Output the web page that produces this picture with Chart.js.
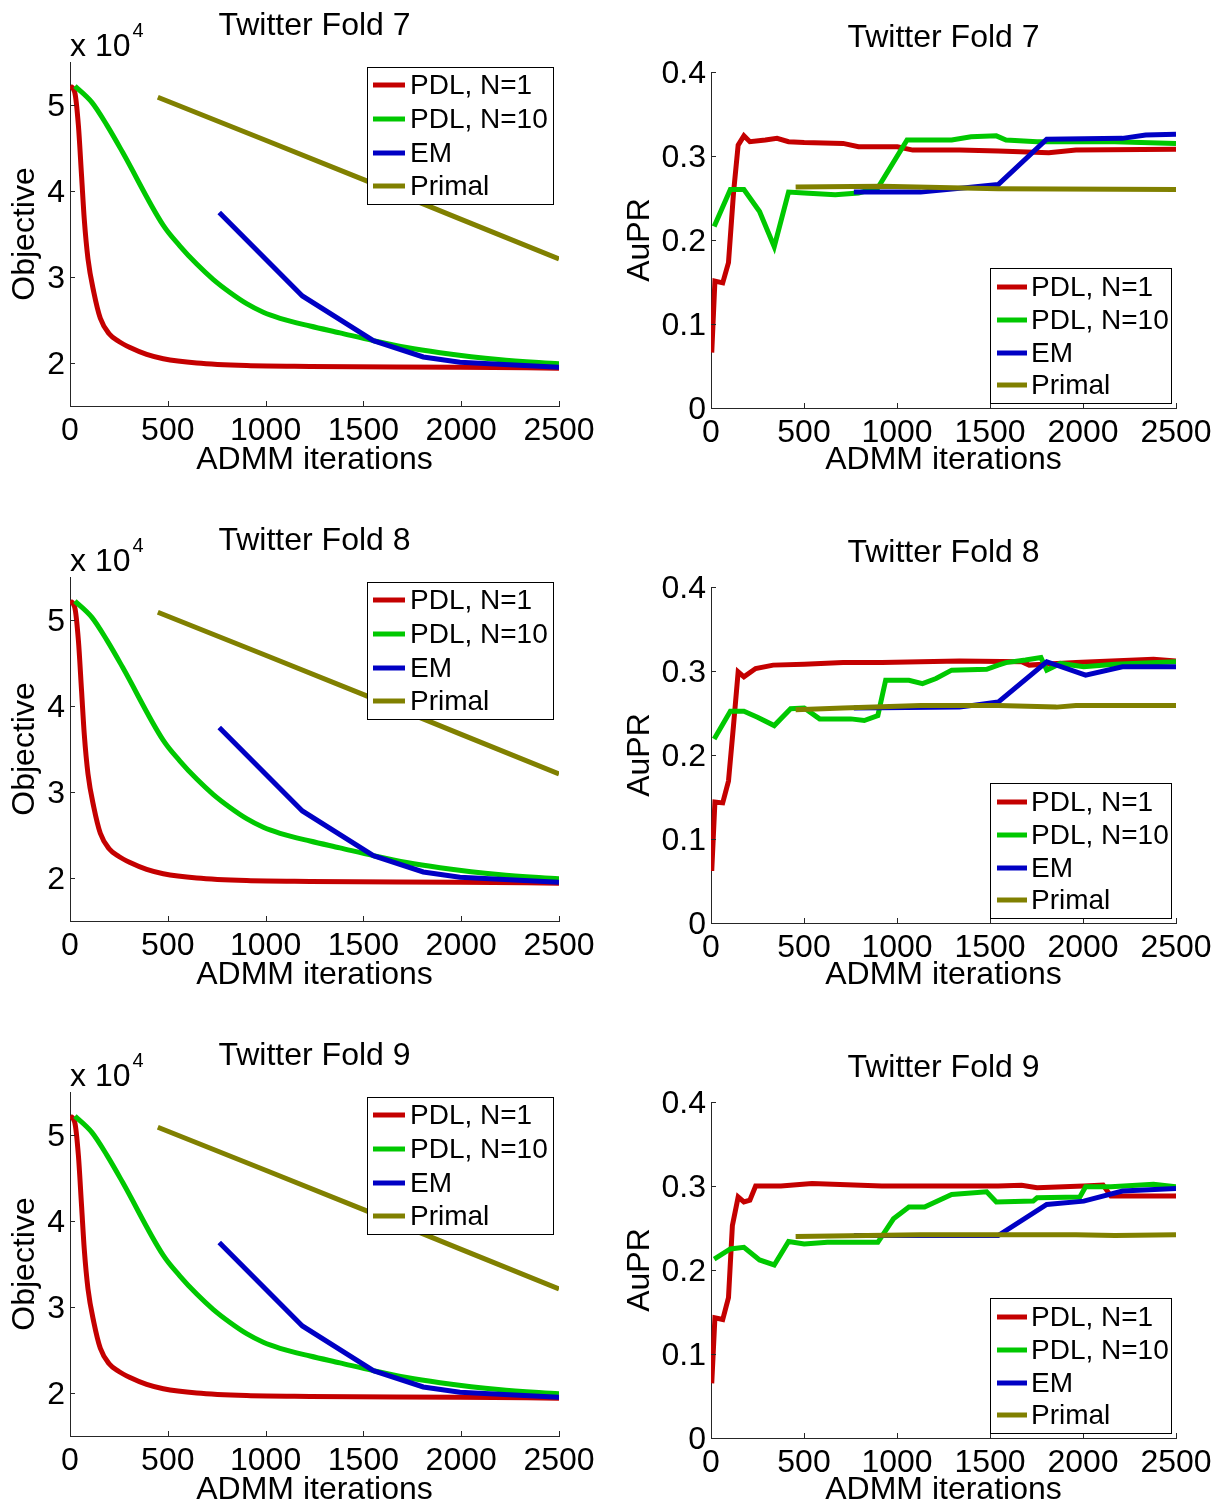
<!DOCTYPE html>
<html>
<head>
<meta charset="utf-8">
<title>Twitter folds</title>
<script src="https://cdn.jsdelivr.net/npm/chart.js@4/dist/chart.umd.min.js"></script>
<style>
  html, body { margin: 0; padding: 0; background: #fff; overflow: hidden; }
  #page { position: relative; width: 1218px; height: 1504px; }
  canvas { position: absolute; }
</style>
</head>
<body>
<div id="page"></div>
<script>
// series names (legend order)
const seriesNames = ['PDL, N=1', 'PDL, N=10', 'EM', 'Primal'];
const folds = [7, 8, 9];

// tick values
const iterTicks = [0, 500, 1000, 1500, 2000, 2500];
const objTicks = [2, 3, 4, 5];
const auprTicks = [0, 0.1, 0.2, 0.3, 0.4];

// objective (x 10^4) vs ADMM iterations, same curves in every fold
const objPdl1 = [[0,5.22],[24,5.15],[43,4.76],[59,4.18],[73,3.67],[92,3.21],[122,2.82],[155,2.52],[200,2.34],[250,2.25],[307,2.18],[392,2.10],[477,2.05],[648,2.00],[903,1.97],[1227,1.96],[1994,1.95],[2500,1.94]];
const objPdl10 = [[25,5.22],[112,5.03],[190,4.76],[269,4.45],[477,3.60],[562,3.36],[648,3.15],[733,2.97],[818,2.82],[903,2.69],[988,2.59],[1074,2.52],[1227,2.43],[1380,2.35],[1551,2.26],[1721,2.18],[1892,2.12],[2190,2.04],[2500,1.99]];
const objEm = [[763,3.75],[1188,2.78],[1551,2.26],[1806,2.07],[1994,2.01],[2500,1.95]];
const objPrimal = [[449,5.09],[1000,4.59],[1504,4.13],[2000,3.67],[2500,3.21]];

// AuPR, fold 7
const f7Pdl1 = [[4,0.066],[21,0.151],[63,0.149],[94,0.173],[121,0.256],[146,0.313],[177,0.324],[209,0.317],[292,0.319],[355,0.321],[417,0.317],[501,0.316],[710,0.315],[793,0.311],[1002,0.311],[1085,0.307],[1336,0.307],[1544,0.306],[1816,0.304],[1962,0.307],[2500,0.308]];
const f7Pdl10 = [[17,0.216],[104,0.260],[177,0.260],[261,0.234],[340,0.192],[417,0.257],[501,0.256],[668,0.254],[793,0.256],[897,0.262],[1054,0.319],[1294,0.319],[1398,0.323],[1534,0.324],[1586,0.319],[1753,0.317],[2171,0.317],[2500,0.315]];
const f7Em = [[768,0.257],[1127,0.257],[1544,0.266],[1805,0.320],[2212,0.321],[2337,0.325],[2500,0.326]];
const f7Primal = [[455,0.263],[918,0.264],[1544,0.261],[2500,0.260]];

// AuPR, fold 8
const f8Pdl1 = [[4,0.062],[21,0.144],[63,0.143],[94,0.169],[121,0.235],[146,0.299],[177,0.293],[240,0.303],[334,0.307],[501,0.308],[710,0.310],[918,0.310],[1336,0.312],[1670,0.311],[1711,0.307],[1962,0.310],[2379,0.314],[2500,0.312]];
const f8Pdl10 = [[17,0.219],[104,0.252],[177,0.252],[250,0.245],[340,0.235],[428,0.255],[501,0.256],[584,0.243],[751,0.243],[824,0.241],[897,0.247],[939,0.289],[1064,0.289],[1137,0.285],[1210,0.291],[1294,0.301],[1482,0.302],[1544,0.307],[1586,0.310],[1691,0.313],[1774,0.316],[1805,0.301],[1878,0.309],[2004,0.305],[2171,0.308],[2500,0.311]];
const f8Em = [[768,0.256],[1336,0.257],[1544,0.263],[1805,0.311],[2014,0.295],[2212,0.305],[2500,0.305]];
const f8Primal = [[455,0.254],[710,0.256],[1127,0.259],[1544,0.259],[1857,0.257],[1962,0.259],[2500,0.259]];

// AuPR, fold 9
const f9Pdl1 = [[4,0.065],[21,0.143],[63,0.141],[94,0.167],[115,0.253],[146,0.287],[177,0.281],[209,0.283],[240,0.300],[376,0.300],[543,0.303],[918,0.300],[1544,0.300],[1670,0.301],[1753,0.298],[2004,0.300],[2108,0.301],[2150,0.288],[2500,0.288]];
const f9Pdl10 = [[17,0.213],[104,0.225],[177,0.227],[261,0.212],[340,0.206],[417,0.234],[501,0.231],[626,0.233],[897,0.233],[981,0.261],[1064,0.275],[1148,0.275],[1294,0.290],[1482,0.293],[1534,0.281],[1732,0.282],[1753,0.286],[1983,0.287],[2014,0.299],[2150,0.299],[2379,0.302],[2500,0.299]];
const f9Em = [[768,0.241],[1544,0.241],[1805,0.278],[2004,0.282],[2212,0.294],[2500,0.297]];
const f9Primal = [[455,0.240],[1127,0.242],[1962,0.242],[2171,0.241],[2500,0.242]];

const auprData = {
  7: [f7Pdl1, f7Pdl10, f7Em, f7Primal],
  8: [f8Pdl1, f8Pdl10, f8Em, f8Primal],
  9: [f9Pdl1, f9Pdl10, f9Em, f9Primal]
};
const objData = [objPdl1, objPdl10, objEm, objPrimal];

const colors = ['rgb(196,0,0)', 'rgb(0,200,0)', 'rgb(0,0,196)', 'rgb(128,128,0)'];
const FONT = "'Liberation Sans', Arial, Helvetica, sans-serif";
const axisColor = '#262626';
const W = 609, H = 476;

// panel geometry (plot box inside each canvas)
const geo = {
  obj:  { L: 70,  R: 559, T: 62, B: 406, titleY: 26, yTitlePad: 9,
          legend: { x: 367, y: 67, w: 186, h: 137, rows: [85, 119, 153, 186], line: [373, 405], text: 410 } },
  aupr: { L: 102, R: 567, T: 72, B: 408, titleY: 38, yTitlePad: 15,
          legend: { x: 381, y: 268, w: 181, h: 135, rows: [287, 320, 353, 385], line: [388, 418], text: 422 } }
};

// inward ticks, legend box, titles
const panelDeco = {
  id: 'panelDeco',
  afterDatasetsDraw(chart, args, opts) {
    const ctx = chart.ctx, a = chart.chartArea;
    const xs = chart.scales.x, ys = chart.scales.y;
    ctx.save();
    ctx.strokeStyle = axisColor;
    ctx.lineWidth = 1;
    ctx.beginPath();
    xs.ticks.forEach(t => {
      const px = Math.round(xs.getPixelForValue(t.value)) + 0.5;
      ctx.moveTo(px, a.bottom); ctx.lineTo(px, a.bottom - 5);
    });
    ys.ticks.forEach(t => {
      const py = Math.round(ys.getPixelForValue(t.value)) + 0.5;
      ctx.moveTo(a.left, py); ctx.lineTo(a.left + 5, py);
    });
    ctx.stroke();

    // legend
    const lg = opts.legend;
    ctx.fillStyle = '#fff';
    ctx.fillRect(lg.x, lg.y, lg.w, lg.h);
    ctx.strokeStyle = '#000';
    ctx.strokeRect(lg.x + 0.5, lg.y + 0.5, lg.w, lg.h);
    ctx.font = '28px ' + FONT;
    ctx.textBaseline = 'middle';
    ctx.textAlign = 'left';
    chart.data.datasets.forEach((ds, i) => {
      const y = lg.rows[i];
      ctx.strokeStyle = ds.borderColor;
      ctx.lineWidth = 5;
      ctx.beginPath();
      ctx.moveTo(lg.line[0], y); ctx.lineTo(lg.line[1], y);
      ctx.stroke();
      ctx.fillStyle = '#000';
      ctx.fillText(ds.label, lg.text, y + 1);
    });

    // title
    ctx.font = '32px ' + FONT;
    ctx.textAlign = 'center';
    ctx.fillText(opts.title, (a.left + a.right) / 2, opts.titleY);

    // exponent label
    if (opts.exponent) {
      ctx.textAlign = 'left';
      ctx.fillText('x 10', a.left, 47);
      const w = ctx.measureText('x 10').width;
      ctx.font = '20px ' + FONT;
      ctx.fillText('4', a.left + w + 2, 31);
    }
    ctx.restore();
  }
};

function makePanel(row, col, fold) {
  const kind = col === 0 ? 'obj' : 'aupr';
  const g = geo[kind];
  const canvas = document.createElement('canvas');
  canvas.width = W; canvas.height = H;
  canvas.style.left = (col * W) + 'px';
  canvas.style.top = (row * 515) + 'px';
  document.getElementById('page').appendChild(canvas);

  const series = kind === 'obj' ? objData : auprData[fold];
  const yTicks = kind === 'obj' ? objTicks : auprTicks;

  new Chart(canvas.getContext('2d'), {
    type: 'line',
    data: {
      datasets: series.map((pts, i) => ({
        label: seriesNames[i],
        data: pts.map(p => ({ x: p[0], y: p[1] })),
        borderColor: colors[i],
        backgroundColor: colors[i],
        borderWidth: 5,
        pointRadius: 0,
        fill: false,
        tension: 0,
        cubicInterpolationMode: kind === 'obj' && i < 2 ? 'monotone' : 'default',
        order: 3 - i
      }))
    },
    options: {
      responsive: false,
      animation: false,
      devicePixelRatio: 1,
      layout: { padding: { left: 0, top: g.T, right: W - g.R, bottom: 0 } },
      plugins: {
        legend: { display: false },
        tooltip: { enabled: false },
        panelDeco: { title: 'Twitter Fold ' + fold, titleY: g.titleY, exponent: kind === 'obj', legend: g.legend }
      },
      scales: {
        x: {
          type: 'linear',
          min: 0, max: 2500,
          afterBuildTicks: s => { s.ticks = iterTicks.map(v => ({ value: v })); },
          afterFit: s => { s.height = H - g.B; s.paddingLeft = 0; s.paddingRight = 0; },
          grid: { display: false, drawTicks: false },
          border: { display: true, color: axisColor, width: 1 },
          ticks: { autoSkip: false, maxRotation: 0, padding: 6, color: '#000', font: { family: FONT, size: 32 }, callback: v => String(v) },
          title: { display: true, text: 'ADMM iterations', color: '#000', font: { family: FONT, size: 32, lineHeight: 1 }, padding: { top: 0, bottom: 0 } }
        },
        y: {
          type: 'linear',
          min: kind === 'obj' ? 1.5 : 0,
          max: kind === 'obj' ? 5.5 : 0.4,
          afterBuildTicks: s => { s.ticks = yTicks.map(v => ({ value: v })); },
          afterFit: s => { s.width = g.L; s.paddingTop = 0; s.paddingBottom = 0; },
          grid: { display: false, drawTicks: false },
          border: { display: true, color: axisColor, width: 1 },
          ticks: { autoSkip: false, padding: 5, labelOffset: 2, color: '#000', font: { family: FONT, size: 32 }, callback: v => String(v) },
          title: { display: true, text: kind === 'obj' ? 'Objective' : 'AuPR', color: '#000', font: { family: FONT, size: 32, lineHeight: 1 }, padding: { top: g.yTitlePad, bottom: 0 } }
        }
      }
    },
    plugins: [panelDeco]
  });
}

folds.forEach((fold, row) => {
  makePanel(row, 0, fold);
  makePanel(row, 1, fold);
});
</script>
</body>
</html>
